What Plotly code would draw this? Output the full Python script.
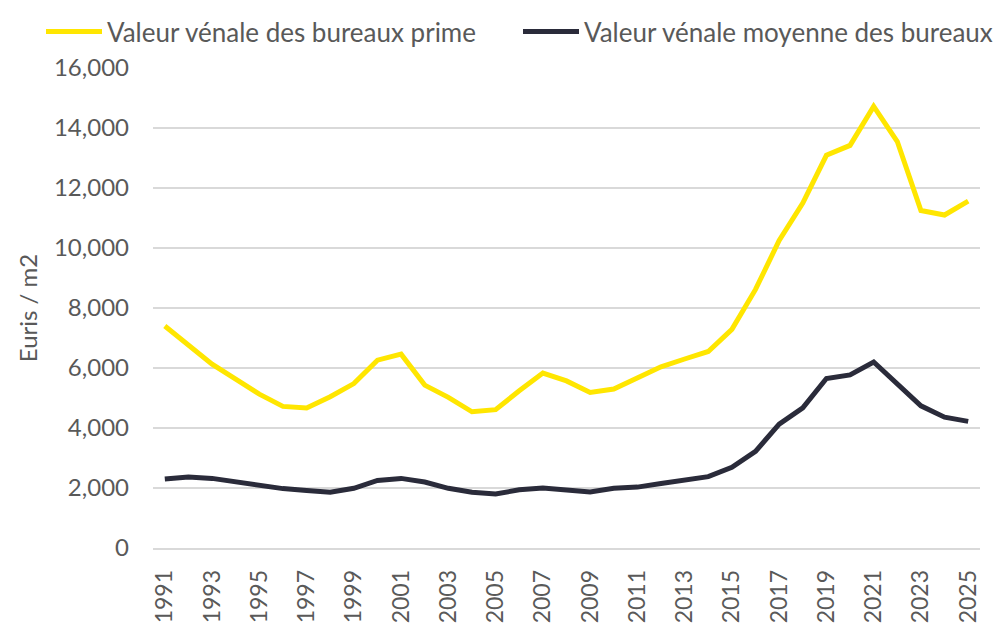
import plotly.graph_objects as go

years = list(range(1991, 2026))
prime = [7400, 6740, 6130, 5630, 5130, 4720, 4670, 5040, 5480, 6260,
         6460, 5430, 5020, 4540, 4610, 5240, 5830, 5570, 5185, 5300,
         5680, 6040, 6300, 6550, 7290, 8620, 10250, 11500, 13090, 13420,
         14720, 13550, 11250, 11100, 11560]
moyenne = [2300, 2370, 2320, 2200, 2060, 1980, 1920, 1860, 1990, 2250,
           2320, 2200, 1990, 1860, 1800, 1940, 2000, 1950, 1870, 1990,
           2030, 2150, 2260, 2380, 2690, 3220, 4130, 4670, 5650, 5770,
           6200, 5470, 4740, 4360, 4220]

name_prime = "Valeur vénale des bureaux prime"
name_moy = "Valeur vénale moyenne des bureaux"
y_title = "Euris / m2"

FONT = "Lato"
GREY = "#595959"

fig = go.Figure()
fig.add_trace(go.Scatter(x=years, y=prime, mode="lines", name=name_prime,
                         line=dict(color="#FFE600", width=5), legend="legend"))
fig.add_trace(go.Scatter(x=years, y=moyenne, mode="lines", name=name_moy,
                         line=dict(color="#2A2B3A", width=5), legend="legend2"))

leg_common = dict(orientation="h", xanchor="left", yanchor="top",
                  xref="container", yref="container",
                  font=dict(family=FONT, size=26, color=GREY),
                  itemwidth=56, bgcolor="rgba(0,0,0,0)", borderwidth=0)

fig.update_layout(
    width=1006, height=626,
    margin=dict(l=145, r=34, t=60, b=86, autoexpand=False),
    paper_bgcolor="white", plot_bgcolor="white",
    font=dict(family=FONT, size=24, color=GREY),
    showlegend=True,
    legend=dict(x=33 / 1006, y=1.0, **leg_common),
    legend2=dict(x=510 / 1006, y=1.0, **leg_common),
)
fig.update_xaxes(range=[1990.5, 2025.5], tickmode="linear", tick0=1991, dtick=2,
                 tickangle=-90, showgrid=False, zeroline=False,
                 showline=True, linecolor="#D9D9D9", linewidth=1.5,
                 ticks="", ticklabelstandoff=11, tickfont=dict(size=23, color=GREY))
fig.update_yaxes(range=[0, 16000], tickmode="linear", tick0=0, dtick=2000,
                 tickformat=",d", showgrid=True, gridcolor="#D9D9D9", gridwidth=1.5,
                 zeroline=False, showline=False, ticks="", ticklabelstandoff=23,
                 title=dict(text=y_title, font=dict(size=24, color=GREY), standoff=9),
                 tickfont=dict(size=24, color=GREY))

fig.write_html("out.html")
